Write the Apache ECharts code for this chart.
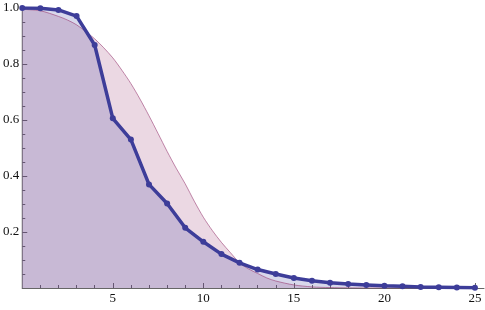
<!DOCTYPE html>
<html><head><meta charset="utf-8">
<script src="https://cdn.jsdelivr.net/npm/echarts@6/dist/echarts.min.js"></script>
<style>html,body{margin:0;padding:0;background:#fff}#c{width:485px;height:310px}</style>
</head><body><div id="c"></div>
<script>
const xs = [0,1,2,3,4,5,6,7,8,9,10,11,12,13,14,15,16,17,18,19,20,21,22,23,24,25];
const pointValues = [1.0,0.999,0.993,0.971,0.868,0.606,0.53,0.37,0.302,0.215,0.165,0.121,0.09,0.066,0.05,0.036,0.026,0.019,0.014,0.011,0.008,0.006,0.004,0.003,0.002,0.001];
const curveX = [0,1,2,2.5,3,3.5,4,4.5,5,5.5,6,6.5,7,7.5,8,8.5,9,9.5,10,10.5,11,11.5,12,12.5,13,13.5,14,15,16,17,18,19,20,21,22,23,24,25];
const curveValues = [0.995,0.99,0.97,0.957,0.94,0.916,0.89,0.858,0.822,0.778,0.73,0.675,0.615,0.552,0.488,0.428,0.372,0.31,0.253,0.205,0.163,0.126,0.09,0.068,0.052,0.036,0.025,0.011,0.004,0.0015,0.0005,0,0,0,0,0,0,0];
const xMajor = [5,10,15,20,25];
const xMinor = [1,2,3,4,6,7,8,9,11,12,13,14,16,17,18,19,21,22,23,24];
const yMajor = [0.2,0.4,0.6,0.8,1.0];
const yMinor = [0.05,0.1,0.15,0.25,0.3,0.35,0.45,0.5,0.55,0.65,0.7,0.75,0.85,0.9,0.95];

const chart = echarts.init(document.getElementById('c'));
const axisCol = '#666';
const font = {fontFamily:"'Liberation Serif', 'DejaVu Serif', serif", fontSize:13, color:'#111'};
chart.setOption({
  animation:false,
  grid:{left:22,right:1,top:8,bottom:22},
  xAxis:[
    {type:'value',min:0,max:25.5,splitLine:{show:false},
     axisLine:{lineStyle:{color:axisCol,width:1}},
     axisTick:{inside:true,length:5,lineStyle:{color:axisCol},customValues:xMajor},
     axisLabel:Object.assign({customValues:xMajor,margin:4},font)},
    {type:'value',min:0,max:25.5,position:'bottom',splitLine:{show:false},
     axisLine:{show:false},
     axisTick:{inside:true,length:3,lineStyle:{color:axisCol},customValues:xMinor},
     axisLabel:{show:false}}
  ],
  yAxis:[
    {type:'value',min:0,max:1,splitLine:{show:false},
     axisLine:{show:true,lineStyle:{color:axisCol,width:1}},
     axisTick:{show:true,inside:true,length:5,lineStyle:{color:axisCol},customValues:yMajor},
     axisLabel:Object.assign({customValues:yMajor,margin:3,formatter:v=>v.toFixed(1)},font)},
    {type:'value',min:0,max:1,position:'left',splitLine:{show:false},
     axisLine:{show:false},
     axisTick:{show:true,inside:true,length:3,lineStyle:{color:axisCol},customValues:yMinor},
     axisLabel:{show:false}}
  ],
  series:[
    {type:'line',data:curveX.map((x,i)=>[x,curveValues[i]]),smooth:0.3,showSymbol:false,
     lineStyle:{color:'rgba(153,61,116,0.6)',width:1},
     areaStyle:{color:'rgba(153,61,116,0.2)',opacity:1,origin:'start'}},
    {type:'line',data:xs.map((x,i)=>[x,pointValues[i]]),symbol:'circle',symbolSize:6,
     itemStyle:{color:'rgb(61,61,153)'},
     lineStyle:{color:'rgb(61,61,153)',width:3.5},
     areaStyle:{color:'rgba(61,61,153,0.2)',opacity:1,origin:'start'}}
  ]
});
</script></body></html>
